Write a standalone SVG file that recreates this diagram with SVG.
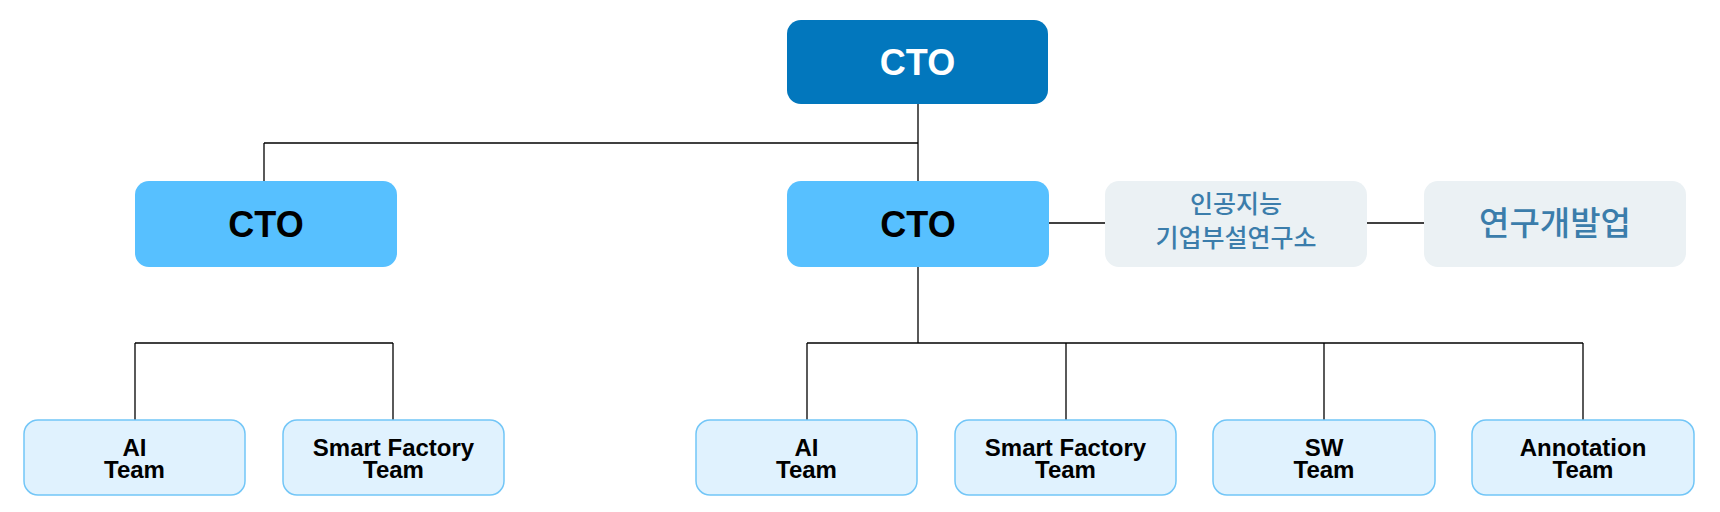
<svg xmlns="http://www.w3.org/2000/svg" width="1720" height="512" viewBox="0 0 1720 512">
<style>
.lbl{font-family:"Liberation Sans",Arial,sans-serif;font-weight:bold;text-anchor:middle}
.kr{font-family:"Noto Sans CJK KR","Noto Sans",sans-serif;font-weight:500;text-anchor:middle;fill:#3B7DAB}
.team rect{fill:#E0F2FE;stroke:#72C6F7;stroke-width:1.5}
.team text{font-size:24px;fill:#000}
.conn line{stroke:#000;stroke-width:1.3}
</style>
<rect width="1720" height="512" fill="#fff"/>
<g class="conn">
<line x1="918" y1="104" x2="918" y2="181"/>
<line x1="264" y1="143" x2="918" y2="143"/>
<line x1="264" y1="143" x2="264" y2="181"/>
<line x1="918" y1="267" x2="918" y2="343"/>
<line x1="807" y1="343" x2="1583" y2="343"/>
<line x1="807" y1="343" x2="807" y2="420"/>
<line x1="1066" y1="343" x2="1066" y2="420"/>
<line x1="1324" y1="343" x2="1324" y2="420"/>
<line x1="1583" y1="343" x2="1583" y2="420"/>
<line x1="135" y1="343" x2="393" y2="343"/>
<line x1="135" y1="343" x2="135" y2="420"/>
<line x1="393" y1="343" x2="393" y2="420"/>
<line x1="1049" y1="223" x2="1105" y2="223"/>
<line x1="1367" y1="223" x2="1424" y2="223"/>
</g>
<g id="cto-top">
<rect x="787" y="20" width="261" height="84" rx="14" fill="#0277BD"/>
<text class="lbl" x="917.5" y="75" font-size="36" fill="#fff">CTO</text>
</g>
<g id="cto-left">
<rect x="135" y="181" width="262" height="86" rx="14" fill="#57C0FF"/>
<text class="lbl" x="266" y="237" font-size="36" fill="#000">CTO</text>
</g>
<g id="cto-mid">
<rect x="787" y="181" width="262" height="86" rx="14" fill="#57C0FF"/>
<text class="lbl" x="918" y="237" font-size="36" fill="#000">CTO</text>
</g>
<g id="lab">
<rect x="1105" y="181" width="262" height="86" rx="14" fill="#EBF1F4"/>
<text class="kr" x="1236" y="213" font-size="25">인공지능</text>
<text class="kr" x="1236" y="247" font-size="25">기업부설연구소</text>
</g>
<g id="rnd">
<rect x="1424" y="181" width="262" height="86" rx="14" fill="#EBF1F4"/>
<text class="kr" x="1555" y="235" font-size="33">연구개발업</text>
</g>
<g id="left-ai" class="team">
<rect x="24" y="420" width="221" height="75" rx="14"/>
<text class="lbl" x="134.5" y="456">AI</text>
<text class="lbl" x="134.5" y="478">Team</text>
</g>
<g id="left-sf" class="team">
<rect x="283" y="420" width="221" height="75" rx="14"/>
<text class="lbl" x="393.5" y="456">Smart Factory</text>
<text class="lbl" x="393.5" y="478">Team</text>
</g>
<g id="mid-ai" class="team">
<rect x="696" y="420" width="221" height="75" rx="14"/>
<text class="lbl" x="806.5" y="456">AI</text>
<text class="lbl" x="806.5" y="478">Team</text>
</g>
<g id="mid-sf" class="team">
<rect x="955" y="420" width="221" height="75" rx="14"/>
<text class="lbl" x="1065.5" y="456">Smart Factory</text>
<text class="lbl" x="1065.5" y="478">Team</text>
</g>
<g id="mid-sw" class="team">
<rect x="1213" y="420" width="222" height="75" rx="14"/>
<text class="lbl" x="1324" y="456">SW</text>
<text class="lbl" x="1324" y="478">Team</text>
</g>
<g id="mid-ann" class="team">
<rect x="1472" y="420" width="222" height="75" rx="14"/>
<text class="lbl" x="1583" y="456">Annotation</text>
<text class="lbl" x="1583" y="478">Team</text>
</g>
</svg>
